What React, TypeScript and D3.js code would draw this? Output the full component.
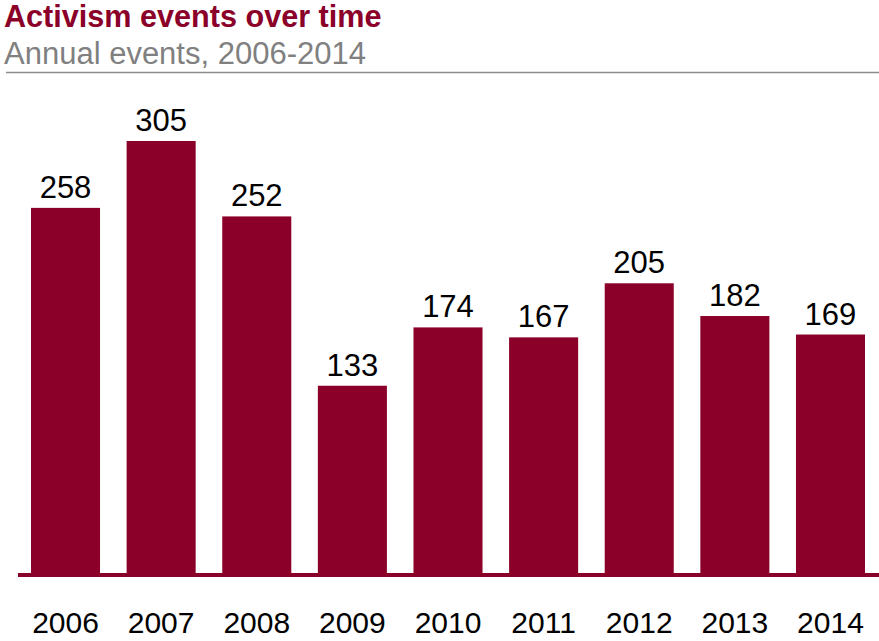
import React from "react";
import * as d3 from "d3";

const years = ["2006", "2007", "2008", "2009", "2010", "2011", "2012", "2013", "2014"];
const events = [258, 305, 252, 133, 174, 167, 205, 182, 169];
const title = "Activism events over time";
const subtitle = "Annual events, 2006-2014";

const W = 879;
const H = 641;
const BAR = "#8a0029";
const FONT = "'Liberation Sans', Arial, Helvetica, sans-serif";

export default function App() {
  const x = d3.scaleBand<string>().domain(years).range([31, 865]).paddingInner(0.278).paddingOuter(0);
  const y = d3.scaleLinear().domain([0, 305]).range([575, 141]);
  return (
    <svg width={W} height={H} style={{ position: "absolute", left: 0, top: 0 }} fontFamily={FONT}>
      <rect width={W} height={H} fill="#fff" />
      <text x={4} y={27} fontSize={30.6} fontWeight="bold" fill={BAR}>{title}</text>
      <text x={4} y={64} fontSize={31} fill="#808080">{subtitle}</text>
      <line x1={6} x2={W} y1={72.5} y2={72.5} stroke="#8c8c8c" strokeWidth={1.6} />
      {years.map((yr, i) => (
        <g key={yr}>
          <rect x={x(yr)} y={y(events[i])} width={x.bandwidth()} height={y(0) - y(events[i])} fill={BAR} />
          <text x={(x(yr) as number) + x.bandwidth() / 2} y={y(events[i]) - 10} fontSize={31} textAnchor="middle" fill="#000">
            {events[i]}
          </text>
          <text x={(x(yr) as number) + x.bandwidth() / 2} y={633} fontSize={30} textAnchor="middle" fill="#000">
            {yr}
          </text>
        </g>
      ))}
      <rect x={18} y={573} width={W - 18} height={4} fill={BAR} />
    </svg>
  );
}
